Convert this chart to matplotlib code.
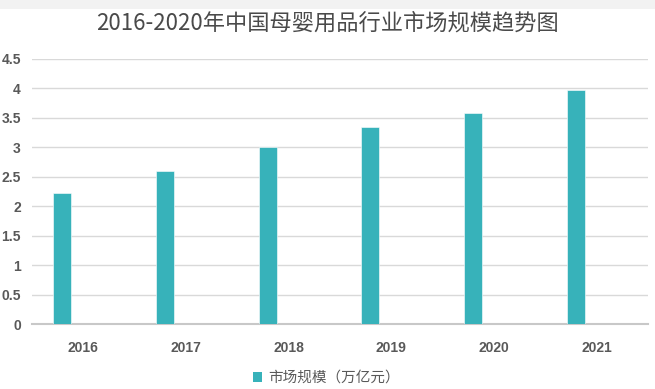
import matplotlib
matplotlib.use("Agg")
import matplotlib.pyplot as plt
from matplotlib.patches import Rectangle, Patch
import numpy as np

plt.rcParams['font.family'] = ['Noto Sans CJK SC', 'DejaVu Sans']

# data
years = ['2016', '2017', '2018', '2019', '2020', '2021']
market_size = [2.22, 2.59, 3.01, 3.35, 3.58, 3.98]
y_ticks = [0, 0.5, 1, 1.5, 2, 2.5, 3, 3.5, 4, 4.5]
y_tick_labels = ['0', '0.5', '1', '1.5', '2', '2.5', '3', '3.5', '4', '4.5']
title = '2016-2020年中国母婴用品行业市场规模趋势图'
series_name = '市场规模（万亿元）'

bar_color = '#37B2BA'
text_color = '#595959'

W, H = 655, 389
fig = plt.figure(figsize=(W / 100, H / 100), dpi=100)
fig.patch.set_facecolor('white')

# light gray strip at the top of the screenshot
fig.add_artist(Rectangle((0, 1 - 9 / H), 1, 9 / H, transform=fig.transFigure,
                         facecolor='#f2f2f2', edgecolor='none', zorder=0))

ax = fig.add_axes([32 / W, (H - 324) / H, (648 - 32) / W, (324 - 59) / H])

x = np.arange(len(years))
ax.bar(x - 0.205, market_size, width=0.175, color=bar_color,
       edgecolor='white', linewidth=0.4, zorder=3)

ax.set_xlim(-0.5, len(years) - 0.5)
ax.set_ylim(0, 4.5)
ax.set_xticks(x)
ax.set_xticklabels(years)
ax.set_yticks(y_ticks)
ax.set_yticklabels(y_tick_labels)

ax.grid(axis='y', color='#d9d9d9', linewidth=1, zorder=0)
ax.set_axisbelow(True)
for side in ['top', 'right', 'left']:
    ax.spines[side].set_visible(False)
ax.spines['bottom'].set_color('#c8c8c8')
ax.spines['bottom'].set_linewidth(1.5)

ax.tick_params(axis='both', length=0, colors=text_color, labelsize=10)
ax.tick_params(axis='x', pad=12)
ax.tick_params(axis='y', pad=8)
for lbl in ax.get_xticklabels() + ax.get_yticklabels():
    lbl.set_fontweight('bold')
    lbl.set_family(['Liberation Sans', 'DejaVu Sans'])

fig.text(0.5, 1 - 23 / H, title, ha='center', va='center',
         fontsize=16, color='#4a4a4a')

handle = Patch(facecolor=bar_color, edgecolor='none')
fig.legend([handle], [series_name], loc='center', bbox_to_anchor=(326 / W, 1 - 378 / H),
           frameon=False, fontsize=10.5, handlelength=0.65, handleheight=0.65,
           handletextpad=0.4, labelcolor=text_color)

fig.savefig('out.png', dpi=100)
